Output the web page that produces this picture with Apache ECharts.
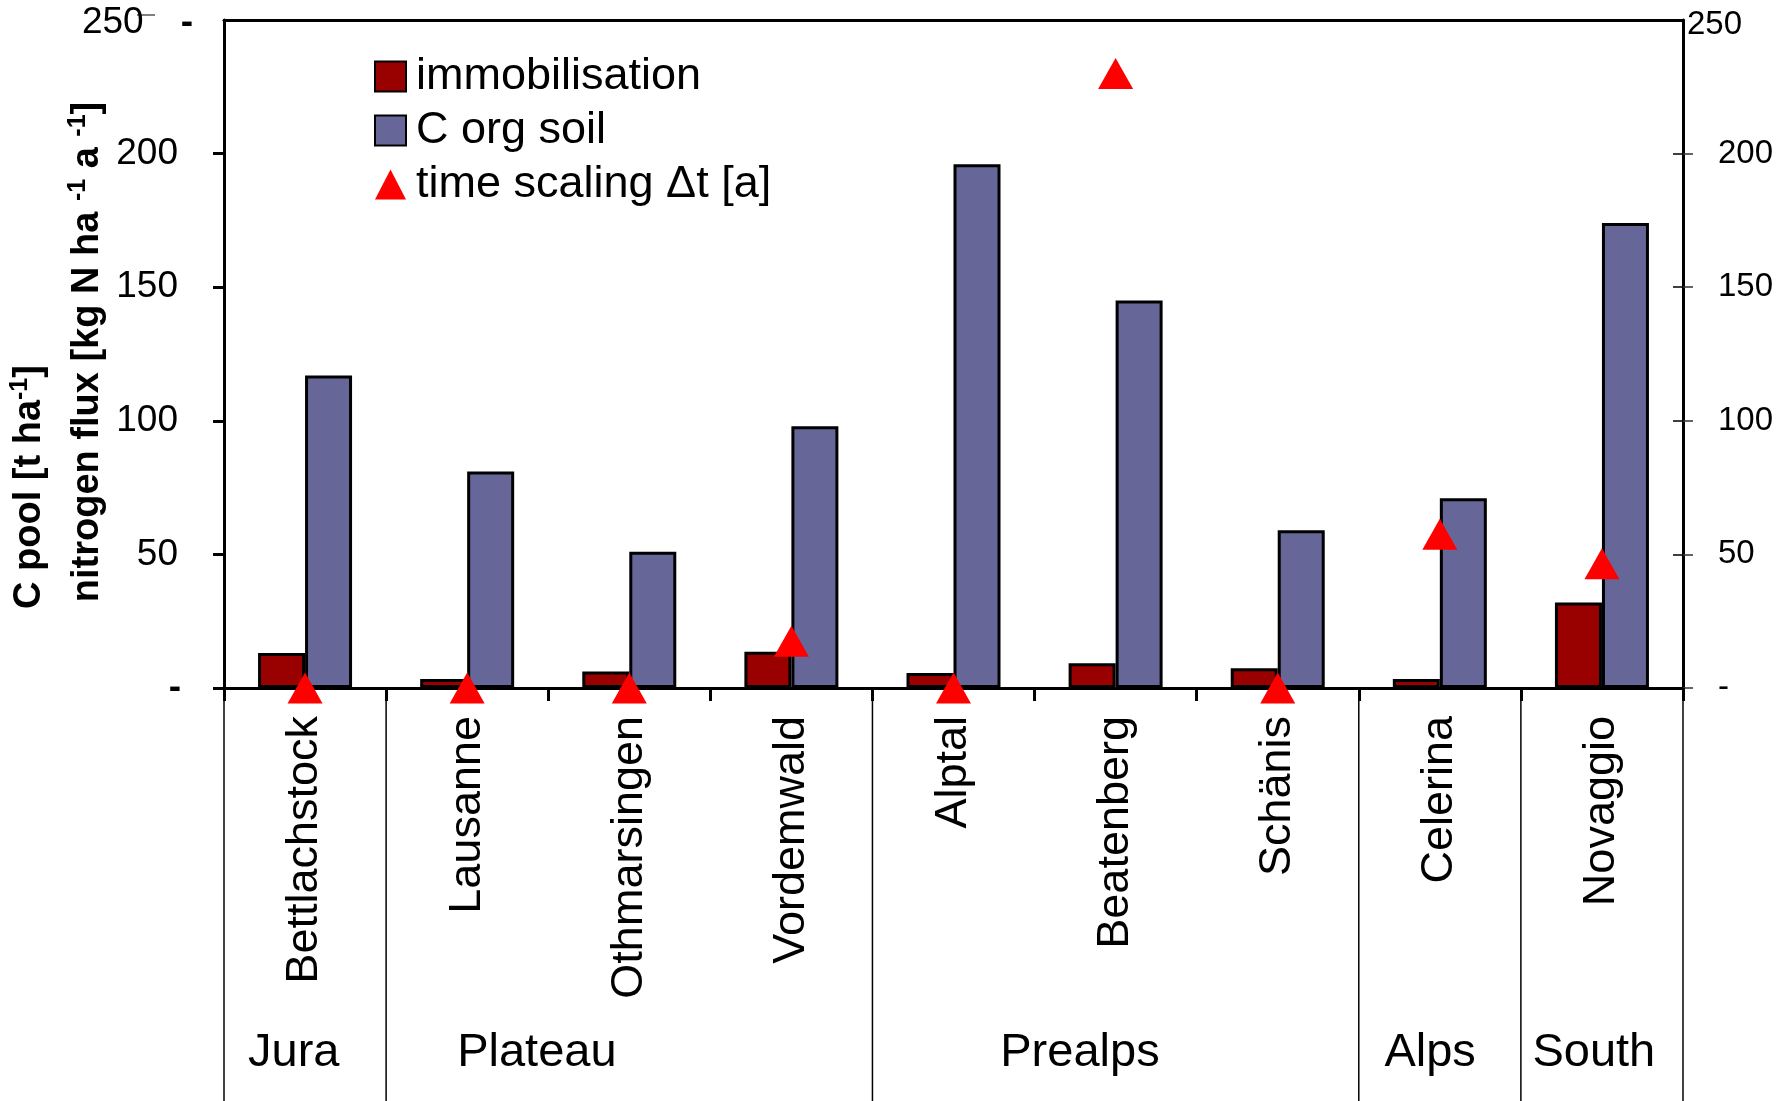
<!DOCTYPE html>
<html><head><meta charset="utf-8">
<script src="https://cdn.jsdelivr.net/npm/echarts@6/dist/echarts.min.js"></script>
<style>html,body{margin:0;padding:0;background:#fff}#c{width:1791px;height:1101px}</style>
</head><body><div id="c"></div>
<script>
// ---------------- data ----------------
const sites = ['Bettlachstock','Lausanne','Othmarsingen','Vordemwald','Alptal','Beatenberg','Schänis','Celerina','Novaggio'];
const immobilisation = [13.1, 3.4, 6.2, 13.6, 5.6, 9.3, 7.4, 3.4, 32];
const cOrgSoil = [117, 81, 51, 98, 196, 145, 59, 71, 174];
const timeScaling = [0, 0, 0, 17.5, 0, 230, 0, 57.5, 46.5];
const regions = ['Jura','Plateau','Prealps','Alps','South'];
const regionBounds = [0, 1, 4, 7, 8, 9];       // category boundaries of the regions
const yTicks = [0, 50, 100, 150, 200, 250];

// ---------------- layout ----------------
const FONT = "'Liberation Sans', Arial, Helvetica, sans-serif";
const regionLabelPos = [0.43, 1.93, 5.28, 7.44, 8.45]; // in category units from left edge

const chart = echarts.init(document.getElementById('c'), null, {renderer: 'canvas'});

const option = {
  animation: false,
  backgroundColor: '#fff',
  textStyle: {fontFamily: FONT, color: '#000'},
  grid: {left: 224, right: 108, top: 20, bottom: 413, containLabel: false},
  legend: {
    orient: 'vertical', left: 374, top: 54, padding: 0,
    itemWidth: 31, itemHeight: 30, itemGap: 9,
    selectedMode: false,
    textStyle: {fontSize: 45, fontFamily: FONT, color: '#000', lineHeight: 45, padding: [0, 0, 0, 5]},
    data: [
      {name: 'immobilisation', icon: 'rect'},
      {name: 'C org soil', icon: 'rect'},
      {name: 'time scaling Δt [a]', icon: 'triangle'}
    ]
  },
  xAxis: [
    {
      type: 'category', data: sites, position: 'bottom', boundaryGap: true,
      axisLine: {show: true, onZero: false, lineStyle: {color: '#000', width: 3}},
      axisTick: {show: true, length: 13, lineStyle: {color: '#000', width: 3}},
      axisLabel: {interval: 0, rotate: 90, margin: 28, fontSize: 45, color: '#000', fontFamily: FONT},
      splitLine: {show: false}
    },
    {
      type: 'category', data: sites, position: 'top', boundaryGap: true,
      axisLine: {show: true, onZero: false, lineStyle: {color: '#000', width: 3}},
      axisTick: {show: false}, axisLabel: {show: false}, splitLine: {show: false}
    }
  ],
  yAxis: [
    {
      type: 'value', position: 'left', min: yTicks[0], max: yTicks[yTicks.length - 1], interval: 50,
      axisLine: {show: true, onZero: false, lineStyle: {color: '#000', width: 3}},
      axisTick: {show: true, length: 11, customValues: yTicks.slice(0, -1), lineStyle: {color: '#000', width: 3}},
      axisLabel: {
        margin: 31, fontSize: 37, color: '#000', fontFamily: FONT,
        formatter: v => v === 250 ? '{a|250}{d|-}' : (v === 0 ? '{z|-}' : '{n|' + v + '}'),
        rich: {
          a: {fontSize: 37, fontFamily: FONT, color: '#000', padding: [6, 37, 0, 0]},
          d: {fontSize: 37, fontFamily: FONT, color: '#000', fontWeight: 'bold', padding: [6, 0, 0, 0]},
          z: {fontSize: 37, fontFamily: FONT, color: '#000', fontWeight: 'bold', padding: [0, 12, 0, 0]},
          n: {fontSize: 37, fontFamily: FONT, color: '#000', padding: [0, 15, 0, 0]}
        }
      },
      splitLine: {show: false}
    },
    {
      type: 'value', position: 'right', min: yTicks[0], max: yTicks[yTicks.length - 1], interval: 50,
      axisLine: {show: true, onZero: false, lineStyle: {color: '#000', width: 3}},
      axisTick: {show: true, length: 10, customValues: yTicks.slice(0, -1), lineStyle: {color: '#333', width: 1.5}},
      axisLabel: {
        margin: 4, fontSize: 33, color: '#000', fontFamily: FONT,
        formatter: v => v === 250 ? '{t|250}' : (v === 0 ? '{n|-}' : '{n|' + v + '}'),
        rich: {
          t: {fontSize: 33, fontFamily: FONT, color: '#000', padding: [10, 0, 0, 0]},
          n: {fontSize: 33, fontFamily: FONT, color: '#000', padding: [0, 0, 0, 31]}
        }
      },
      splitLine: {show: false}
    },
    {
      type: 'value', position: 'right', min: yTicks[0], max: yTicks[yTicks.length - 1], interval: 50,
      axisLine: {show: false},
      axisTick: {show: true, inside: true, length: 10, customValues: yTicks.slice(1, -1), lineStyle: {color: '#000', width: 1.5}},
      axisLabel: {show: false}, splitLine: {show: false}
    }
  ],
  series: [
    {
      name: 'immobilisation', type: 'bar', data: immobilisation, barWidth: 47, barGap: '0%',
      itemStyle: {color: '#990000', borderColor: '#000', borderWidth: 3}
    },
    {
      name: 'C org soil', type: 'bar', data: cOrgSoil, barWidth: 47, barGap: '0%',
      itemStyle: {color: '#666699', borderColor: '#000', borderWidth: 3}
    },
    {
      name: 'time scaling Δt [a]', type: 'scatter', yAxisIndex: 1, data: timeScaling,
      symbol: 'triangle', symbolSize: [35, 31], clip: false, z: 5,
      itemStyle: {color: '#ff0000', opacity: 1}
    }
  ]
};
chart.setOption(option);

// --------- region separators and labels, derived from the category axis ---------
const xFirst = chart.convertToPixel({xAxisIndex: 0}, sites[0]);
const xLast = chart.convertToPixel({xAxisIndex: 0}, sites[sites.length - 1]);
const band = (xLast - xFirst) / (sites.length - 1);
const edge = k => xFirst - band / 2 + k * band;
const yBase = chart.convertToPixel({yAxisIndex: 0}, 0);

const graphics = [];
regionBounds.forEach(k => {
  graphics.push({type: 'line', silent: true, z: 1,
    shape: {x1: edge(k), y1: yBase + 13, x2: edge(k), y2: 1101},
    style: {stroke: '#000', lineWidth: 1.5}});
});
regions.forEach((r, i) => {
  graphics.push({type: 'text', silent: true, x: edge(0) + regionLabelPos[i] * band, y: 1053,
    style: {text: r, fontSize: 47, fontFamily: FONT, fill: '#000', align: 'center', verticalAlign: 'middle'}});
});
const titleRich = {
  b: {fontSize: 38, fontWeight: 'bold', fontFamily: FONT, fill: '#000', lineHeight: 44, verticalAlign: 'middle'},
  s: {fontSize: 25, fontWeight: 'bold', fontFamily: FONT, fill: '#000', lineHeight: 44, verticalAlign: 'top'}
};
graphics.push({type: 'text', silent: true, x: 30, y: 487, rotation: Math.PI / 2,
  style: {text: '{b|C pool [t ha}{s|-1}{b|]}', align: 'center', verticalAlign: 'middle', rich: titleRich}});
graphics.push({type: 'text', silent: true, x: 88, y: 352, rotation: Math.PI / 2,
  style: {text: '{b|nitrogen flux [kg N ha }{s|-1}{b| a }{s|-1}{b|]}', align: 'center', verticalAlign: 'middle', rich: titleRich}});
// thin stray tick next to the top-left "250" label
graphics.push({type: 'line', silent: true, shape: {x1: 137, y1: 15, x2: 155, y2: 15}, style: {stroke: '#000', lineWidth: 1}});

chart.setOption({graphic: {elements: graphics}});
</script>
</body></html>
